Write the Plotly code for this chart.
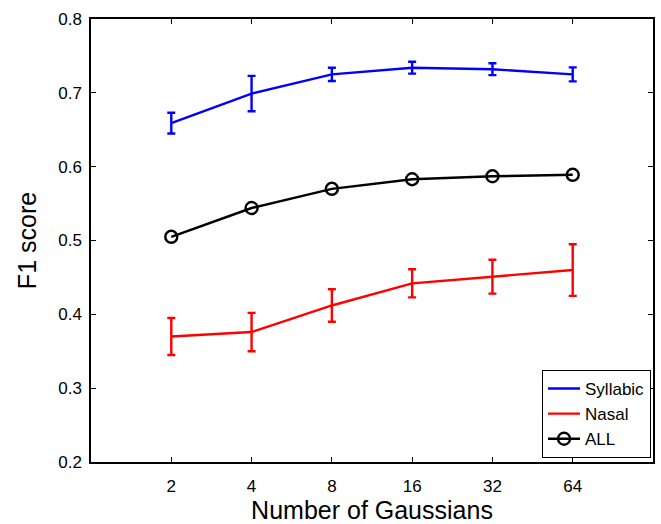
import plotly.graph_objects as go

gaussians = ["2", "4", "8", "16", "32", "64"]
xpos = [1, 2, 3, 4, 5, 6]

syllabic = [0.659, 0.699, 0.725, 0.734, 0.732, 0.725]
syllabic_err = [0.014, 0.024, 0.009, 0.008, 0.008, 0.0095]

nasal = [0.370, 0.376, 0.412, 0.442, 0.451, 0.460]
nasal_err = [0.025, 0.026, 0.022, 0.019, 0.023, 0.035]

all_scores = [0.505, 0.544, 0.570, 0.583, 0.587, 0.589]

yticks = [0.2, 0.3, 0.4, 0.5, 0.6, 0.7, 0.8]

FONT = "Liberation Sans, Arial, sans-serif"

fig = go.Figure()
fig.add_trace(go.Scatter(
    x=xpos, y=syllabic, mode="lines", name="Syllabic",
    line=dict(color="#0000ff", width=2.4),
    error_y=dict(type="data", array=syllabic_err, color="#0000ff", thickness=2.4, width=4),
))
fig.add_trace(go.Scatter(
    x=xpos, y=nasal, mode="lines", name="Nasal",
    line=dict(color="#ff0000", width=2.4),
    error_y=dict(type="data", array=nasal_err, color="#ff0000", thickness=2.4, width=4),
))
fig.add_trace(go.Scatter(
    x=xpos, y=all_scores, mode="lines+markers", name="ALL",
    line=dict(color="#000000", width=2.4),
    marker=dict(symbol="circle-open", size=12, color="#000000", line=dict(width=2.4)),
))

fig.update_layout(
    width=661, height=524,
    margin=dict(l=91, r=6, t=19, b=62),
    paper_bgcolor="white", plot_bgcolor="white",
    font=dict(family=FONT, size=17, color="black"),
    showlegend=True,
    legend=dict(
        x=0.9965, y=0.009, xanchor="right", yanchor="bottom",
        bordercolor="black", borderwidth=1, bgcolor="white",
        font=dict(size=17), tracegroupgap=0, itemwidth=32,
    ),
)
fig.update_xaxes(
    range=[0, 7], tickmode="array", tickvals=xpos, ticktext=gaussians,
    showline=True, linecolor="black", linewidth=1.5, mirror="ticks",
    ticks="inside", ticklen=5, tickcolor="black", showgrid=False, zeroline=False,
    ticklabelstandoff=8,
    title=dict(text="Number of Gaussians", font=dict(size=25), standoff=2),
)
fig.update_yaxes(
    range=[0.2, 0.8], tickmode="array", tickvals=yticks,
    ticktext=[f"{v:.1f}" for v in yticks],
    showline=True, linecolor="black", linewidth=1.5, mirror="ticks",
    ticks="inside", ticklen=5, tickcolor="black", showgrid=False, zeroline=False,
    ticklabelstandoff=4,
    title=dict(text="F1 score", font=dict(size=25), standoff=14),
)

fig.write_html("out.html")
